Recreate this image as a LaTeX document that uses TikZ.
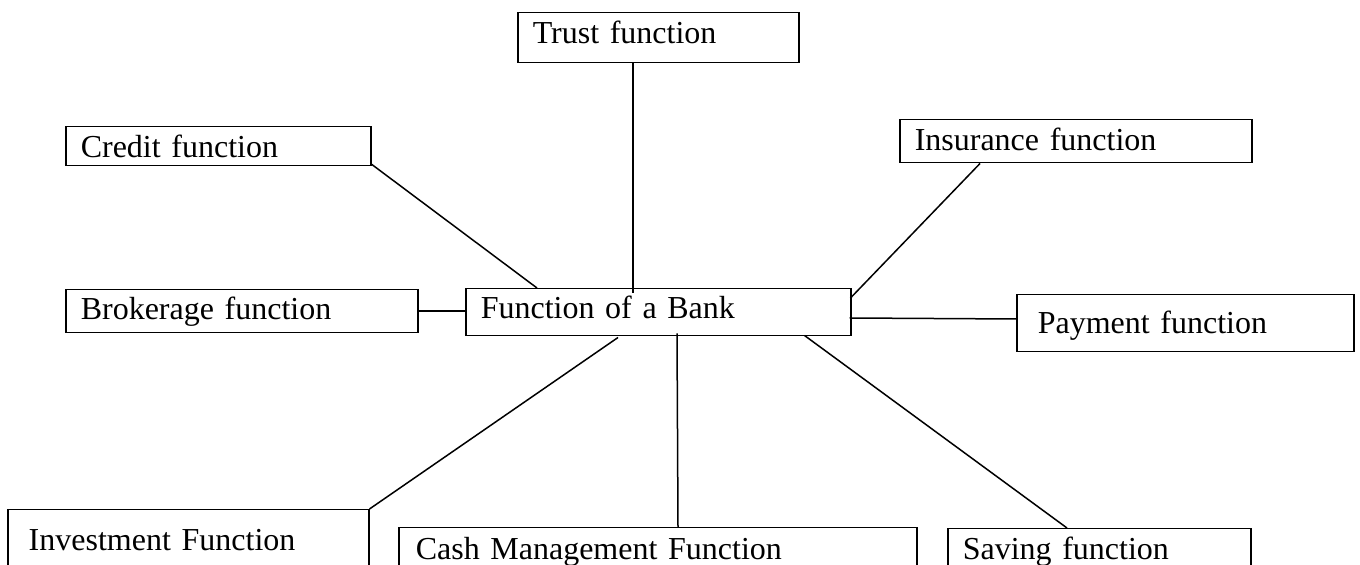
\documentclass[tikz,border=0pt]{standalone}
\usepackage{fontspec}
\setmainfont{Liberation Serif}
\usetikzlibrary{calc}

\tikzset{
  func/.style={draw, line width=0.75pt, anchor=north west, inner ysep=0pt,
    inner xsep=7.5pt, align=left, font=\fontsize{16pt}{19pt}\selectfont},
  link/.style={line width=0.75pt}
}

\begin{document}
\begin{tikzpicture}[x=0.5pt,y=-0.5pt]
\clip (0,0) rectangle (1360,565);
\useasboundingbox (0,0) rectangle (1360,565);
\fill[white] (0,0) rectangle (1360,565);

% boxes
\node[func, text width=125.5pt, text height=15.5pt, text depth=9.5pt] (trust) at (517,12) {Trust function};
\node[func, text width=137.5pt, text height=15.5pt, text depth=4pt] (credit) at (65,126) {Credit function};
\node[func, text width=161pt, text height=15.5pt, text depth=6pt] (insurance) at (899,119) {Insurance function};
\node[func, text width=161pt, text height=15pt, text depth=6.5pt] (broker) at (65,289) {Brokerage function};
\node[func, text width=177.5pt, text height=15pt, text depth=8.5pt] (bank) at (465,288) {Function of a Bank};
\node[func, inner xsep=10.5pt, text width=147.5pt, text height=19.5pt, text depth=9pt] (payment) at (1016,294) {Payment function};
\node[func, inner xsep=10.5pt, text width=159.5pt, text height=20.5pt, text depth=15pt] (invest) at (7,509) {Investment Function};
\node[func, inner xsep=8.5pt, text width=242pt, text height=16pt, text depth=15pt] (cash) at (398,527) {Cash Management Function};
\node[func, text width=136.5pt, text height=15.5pt, text depth=15pt] (saving) at (947,528) {Saving function};

% connectors
\draw[link] ($(trust.south west)+(116,0)$) -- ($(bank.north west)+(168,5)$);
\draw[link] ($(credit.south east)+(-1,-3)$) -- ($(bank.north west)+(72,0)$);
\draw[link] ($(insurance.south west)+(81,0)$) -- ($(bank.north east)+(-1,10)$);
\draw[link] (broker.east) -- (broker.east -| bank.west);
\draw[link] ($(bank.north east)+(-2,30)$) -- ($(payment.north west)+(0,25)$);
\draw[link] ($(bank.south west)+(153,1)$) -- (invest.north east);
\draw[link] ($(bank.south west)+(212,-3)$) -- ($(cash.north west)+(280,0)$);
\draw[link] ($(bank.south east)+(-47,-1)$) -- ($(saving.north west)+(120,0)$);
\end{tikzpicture}
\end{document}
